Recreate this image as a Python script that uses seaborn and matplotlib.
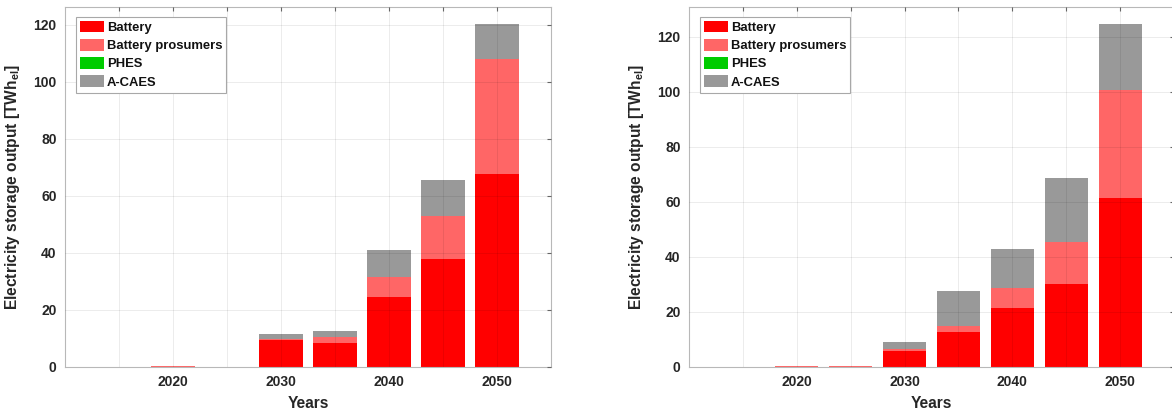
import matplotlib
matplotlib.use("Agg")
import matplotlib.pyplot as plt
import numpy as np
import pandas as pd
import seaborn as sns
from matplotlib.patches import Patch

# Model years and storage technologies
years = [2020, 2025, 2030, 2035, 2040, 2045, 2050]
technologies = ["Battery", "Battery prosumers", "PHES", "A-CAES"]
tech_colors = ["#ff0000", "#ff6666", "#00cc00", "#999999"]

# Scenario 1 electricity storage output [TWh_el]
s1_battery = [0.0, 0.0, 9.3, 8.4, 24.4, 37.7, 67.6]
s1_prosumers = [0.2, 0.0, 0.6, 2.1, 7.1, 15.3, 40.2]
s1_phes = [0.0, 0.0, 0.0, 0.0, 0.0, 0.0, 0.0]
s1_acaes = [0.0, 0.0, 1.8, 2.2, 9.5, 12.4, 12.4]

# Scenario 2 electricity storage output [TWh_el]
s2_battery = [0.0, 0.0, 5.8, 12.7, 21.6, 30.2, 61.6]
s2_prosumers = [0.2, 0.2, 0.7, 2.1, 7.2, 15.4, 39.0]
s2_phes = [0.0, 0.0, 0.0, 0.0, 0.0, 0.0, 0.0]
s2_acaes = [0.0, 0.0, 2.5, 12.7, 14.1, 23.2, 24.2]

x_ticks = [2015, 2020, 2025, 2030, 2035, 2040, 2045, 2050]
y_ticks = [0, 20, 40, 60, 80, 100, 120]

sns.set_style("white")
plt.rcParams["font.family"] = ["Liberation Sans", "DejaVu Sans"]
plt.rcParams["font.weight"] = "bold"
plt.rcParams["mathtext.fontset"] = "custom"
plt.rcParams["mathtext.rm"] = "Liberation Sans:bold"
plt.rcParams["mathtext.bf"] = "Liberation Sans:bold"
plt.rcParams["mathtext.it"] = "Liberation Sans:bold"

TEXT = "#262626"
W, H = 1172, 412
fig = plt.figure(figsize=(W / 100, H / 100), dpi=100)

panels = [
    dict(rect=(65, 7, 486, 360), ymax=126.2,
         series=[s1_battery, s1_prosumers, s1_phes, s1_acaes]),
    dict(rect=(689, 7, 485, 360), ymax=130.9,
         series=[s2_battery, s2_prosumers, s2_phes, s2_acaes]),
]

for p in panels:
    x0, y0, w, h = p["rect"]
    ax = fig.add_axes([x0 / W, 1 - (y0 + h) / H, w / W, h / H])

    # stacked bars: draw cumulative totals from the top layer down
    cum = np.cumsum(np.array(p["series"]), axis=0)
    for i in range(len(technologies) - 1, -1, -1):
        df = pd.DataFrame({"year": years, "value": cum[i]})
        sns.barplot(data=df, x="year", y="value", native_scale=True,
                    color=tech_colors[i], saturation=1, width=0.8,
                    errorbar=None, linewidth=0, ax=ax)

    ax.set_xlim(2010, 2055)
    ax.set_ylim(0, p["ymax"])
    ax.set_xticks(x_ticks)
    ax.set_xticklabels([str(t) if t % 10 == 0 else "" for t in x_ticks])
    ax.set_yticks(y_ticks)

    ax.set_axisbelow(False)
    ax.grid(True, color="black", alpha=0.09, linewidth=0.6)
    for s in ax.spines.values():
        s.set_color("#b8b8b8")
        s.set_linewidth(0.8)
    ax.tick_params(direction="in", length=3, width=0.8, top=True, right=True,
                   color="#666666", labelcolor=TEXT, labelsize=10, pad=6)
    for lbl in ax.get_xticklabels() + ax.get_yticklabels():
        lbl.set_fontweight("bold")

    ax.set_xlabel("Years", fontsize=11.2, fontweight="bold", color=TEXT, labelpad=5)
    ax.set_ylabel(r"Electricity storage output [TWh$_{\mathrm{el}}$]",
                  fontsize=11.2, fontweight="bold", color=TEXT, labelpad=8)

    handles = [Patch(facecolor=c, edgecolor="none") for c in tech_colors]
    leg = ax.legend(handles, technologies, loc="upper left",
                    bbox_to_anchor=(10.7 / w, 1 - 9.7 / h), borderaxespad=0,
                    fancybox=False, framealpha=1, edgecolor="#a8a8a8",
                    prop={"weight": "bold", "size": 9.4},
                    handlelength=1.85, handleheight=1.0, labelspacing=0.38,
                    handletextpad=0.25, borderpad=0.3)
    leg.get_frame().set_linewidth(0.8)
    for t in leg.get_texts():
        t.set_color("#111111")

fig.savefig("out.png", dpi=100)
